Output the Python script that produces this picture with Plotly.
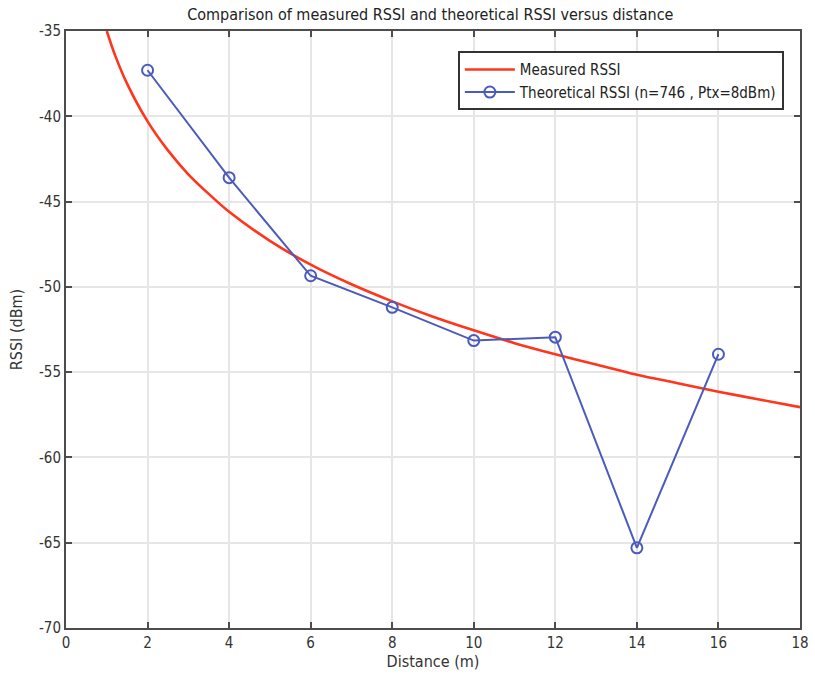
import plotly.graph_objects as go

# Blue series: sampled RSSI at each distance
distance_pts = [2, 4, 6, 8, 10, 12, 14, 16]
rssi_pts = [-37.3, -43.6, -49.35, -51.2, -53.15, -52.95, -65.3, -53.95]

# Red curve: log-distance path loss trace
curve_d = [1.0, 1.2, 1.5, 2, 2.5, 3, 3.5, 4, 5, 6, 7, 8, 9, 10, 11, 12, 13, 14, 15, 16, 17, 18]
curve_rssi = [-35.0, -36.4, -38.1, -40.3, -42.0, -43.4, -44.55, -45.6, -47.3, -48.7, -49.85,
              -50.85, -51.75, -52.55, -53.3, -53.95, -54.55, -55.15, -55.65, -56.15, -56.6, -57.05]

x_ticks = [0, 2, 4, 6, 8, 10, 12, 14, 16, 18]
y_ticks = [-70, -65, -60, -55, -50, -45, -40, -35]
y_tick_text = ["-70", "-65", "-60", "-55", "-50", "-45", "-40", "-35"]

FONT = "DejaVu Sans Condensed, Liberation Sans Narrow, Open Sans, sans-serif"
AXIS_COLOR = "#4d4d4d"

fig = go.Figure()
fig.add_trace(go.Scatter(
    x=curve_d, y=curve_rssi, mode="lines", name="Measured RSSI",
    line=dict(color="#ff351c", width=2.6, shape="spline", smoothing=0.8),
))
fig.add_trace(go.Scatter(
    x=distance_pts, y=rssi_pts, mode="lines+markers",
    name="Theoretical RSSI (n=746 , Ptx=8dBm)",
    line=dict(color="#4b5bbb", width=2),
    marker=dict(symbol="circle-open", size=11, color="#4b5bbb", line=dict(width=2)),
))

axis_common = dict(
    showline=True, linecolor=AXIS_COLOR, linewidth=2, mirror="ticks",
    ticks="inside", ticklen=6, tickwidth=2, tickcolor=AXIS_COLOR,
    showgrid=True, gridcolor="#e6e6e6", gridwidth=1.5, zeroline=False,
    tickfont=dict(family=FONT, size=15, color="#333333"),
)

fig.update_layout(
    width=815, height=677,
    margin=dict(l=66, r=15, t=31, b=49, autoexpand=False),
    paper_bgcolor="white", plot_bgcolor="white",
    title=dict(text="Comparison of measured RSSI and theoretical RSSI versus distance",
               x=0.528, xanchor="center", y=0.978, yanchor="middle",
               font=dict(family=FONT, size=16, color="#222222")),
    xaxis=dict(range=[0, 18], tickvals=x_ticks,
               title=dict(text="Distance (m)", standoff=2,
                          font=dict(family=FONT, size=16, color="#333333")),
               **axis_common),
    yaxis=dict(range=[-70, -35], tickvals=y_ticks, ticktext=y_tick_text,
               title=dict(text="RSSI (dBm)", standoff=12,
                          font=dict(family=FONT, size=16, color="#333333")),
               **axis_common),
    legend=dict(x=0.978, xanchor="right", y=0.966, yanchor="top",
                bgcolor="white", bordercolor="#333333", borderwidth=2,
                font=dict(family=FONT, size=15, color="#222222"),
                tracegroupgap=0, itemwidth=50),
    showlegend=True,
)

fig.write_html("out.html")
